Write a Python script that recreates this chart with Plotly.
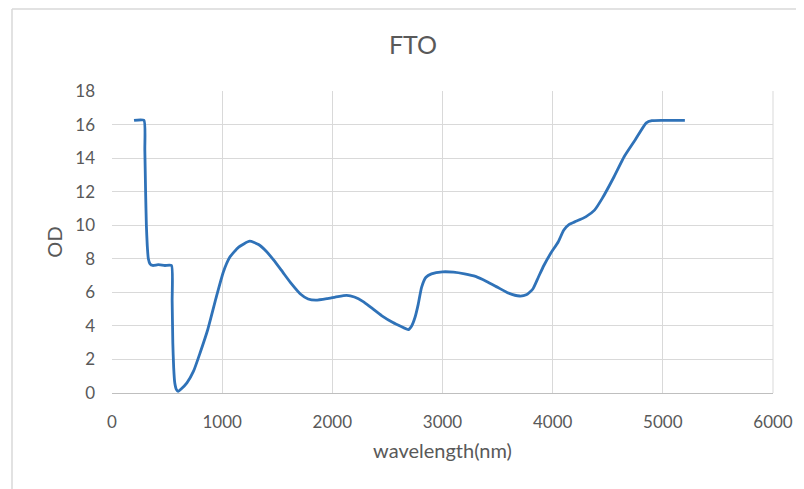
import plotly.graph_objects as go

wavelength = [200, 290, 298, 305, 312, 320, 330, 345, 370, 420, 480, 540, 546, 552, 560, 570, 585,
              600, 630, 680, 740, 800, 870, 950, 1010, 1070, 1150, 1250, 1330, 1400, 1470, 1550,
              1630, 1710, 1780, 1850, 1950, 2050, 2130, 2200, 2280, 2350, 2450, 2550, 2620, 2690,
              2720, 2750, 2780, 2810, 2850, 2900, 3000, 3100, 3200, 3300, 3400, 3500, 3600, 3700,
              3760, 3820, 3870, 3920, 3980, 4050, 4100, 4150, 4200, 4300, 4380, 4450, 4550, 4650,
              4750, 4850, 4900, 5000, 5100, 5200]
od = [16.25, 16.25, 14.5, 12.0, 10.0, 8.8, 8.0, 7.7, 7.6, 7.65, 7.6, 7.6, 5.5, 3.0, 1.5, 0.6, 0.2,
      0.1, 0.25, 0.6, 1.3, 2.4, 3.8, 5.8, 7.2, 8.1, 8.7, 9.05, 8.85, 8.45, 7.9, 7.2,
      6.5, 5.9, 5.6, 5.53, 5.62, 5.75, 5.82, 5.72, 5.45, 5.1, 4.6, 4.2, 3.98, 3.78,
      4.0, 4.5, 5.3, 6.3, 6.9, 7.1, 7.22, 7.2, 7.1, 6.95, 6.65, 6.3, 5.95, 5.78,
      5.85, 6.2, 6.9, 7.6, 8.3, 9.0, 9.7, 10.05, 10.2, 10.5, 10.9, 11.6, 12.8, 14.1,
      15.1, 16.1, 16.23, 16.25, 16.25, 16.25]

x_ticks = [0, 1000, 2000, 3000, 4000, 5000, 6000]
y_ticks = [0, 2, 4, 6, 8, 10, 12, 14, 16, 18]

# page body adds an 8px offset; target screenshot coordinates are shifted back by OFF
OFF = 8
W, H = 804 - OFF, 489 - OFF
PL, PR, PT, PB = 112, 773, 91, 393          # plot area in screenshot pixels
L, R, T, B = PL - OFF, W - (PR - OFF), PT - OFF, H - (PB - OFF)
pw, ph = W - L - R, H - T - B

def px(xs):
    return (xs - OFF - L) / pw

def py(ys):
    return (H - B - (ys - OFF)) / ph

FONT = "Lato, Calibri, 'Open Sans', sans-serif"
GREY = "#595959"

fig = go.Figure()
fig.add_trace(go.Scatter(
    x=wavelength, y=od, mode="lines",
    line=dict(color="#2f72b8", width=2.8, shape="spline", smoothing=0.5),
    showlegend=False, hoverinfo="x+y",
))

fig.update_layout(
    width=W, height=H,
    margin=dict(l=L, r=R, t=T, b=B, autoexpand=False),
    paper_bgcolor="white", plot_bgcolor="white",
    font=dict(family=FONT, color=GREY, size=17),
    title=dict(text="FTO", x=(413 - OFF) / W, xanchor="center", y=1 - (45 - OFF) / H, yanchor="middle",
               font=dict(size=25, color=GREY, family=FONT)),
    xaxis=dict(
        range=[0, 6000], tickvals=x_ticks, ticktext=[str(v) for v in x_ticks],
        showgrid=True, gridcolor="#d9d9d9", gridwidth=1,
        showline=True, linecolor="#bfbfbf", linewidth=1,
        zeroline=False, ticks="", ticklabelstandoff=14,
        title=dict(text="wavelength(nm)", standoff=12, font=dict(size=20, color=GREY)),
        tickfont=dict(size=17, color=GREY),
    ),
    yaxis=dict(
        range=[0, 18], tickvals=y_ticks, ticktext=[str(v) for v in y_ticks],
        showgrid=True, gridcolor="#d9d9d9", gridwidth=1,
        showline=False, zeroline=False, ticks="", ticklabelstandoff=16,
        title=dict(text="OD", standoff=7, font=dict(size=20, color=GREY)),
        tickfont=dict(size=17, color=GREY),
    ),
    shapes=[
        dict(type="line", xref="paper", yref="paper", x0=px(12), x1=px(812), y0=py(9), y1=py(9),
             line=dict(color="#d9d9d9", width=1.5)),
        dict(type="line", xref="paper", yref="paper", x0=px(12), x1=px(12), y0=py(9), y1=py(495),
             line=dict(color="#d9d9d9", width=1.5)),
        dict(type="line", xref="paper", yref="paper", x0=1, x1=1, y0=0, y1=1,
             line=dict(color="#d9d9d9", width=1)),
    ],
)

fig.write_html("out.html")
